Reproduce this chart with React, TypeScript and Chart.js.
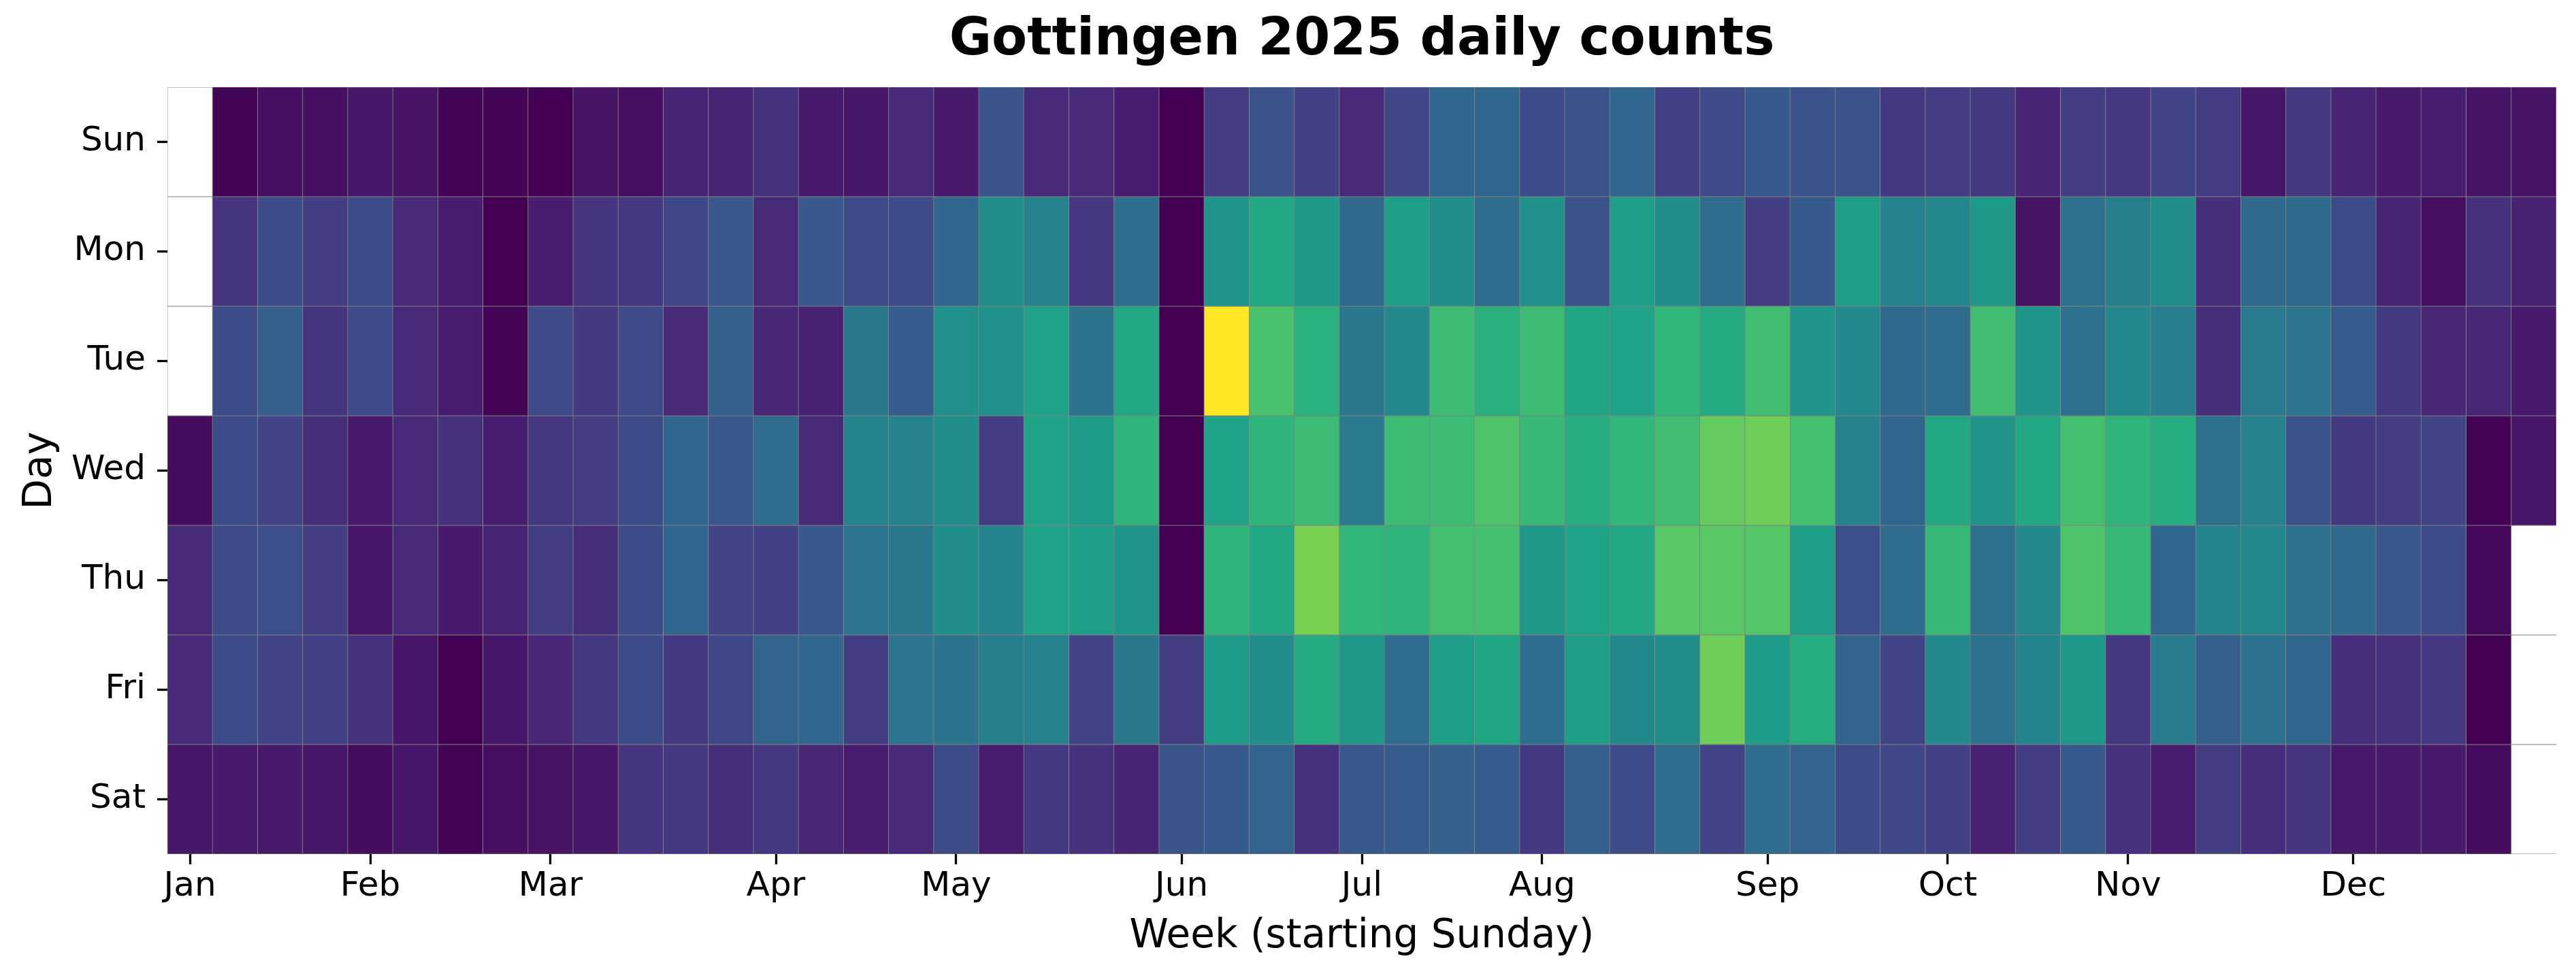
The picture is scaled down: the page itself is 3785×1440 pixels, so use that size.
import React, { useEffect, useRef } from 'react';
import { Chart, registerables } from 'chart.js';

Chart.register(...registerables);

// ---- Data ----
const DAYS = ['Sun', 'Mon', 'Tue', 'Wed', 'Thu', 'Fri', 'Sat'];

const WEEKS = [
  '2024-12-29', '2025-01-05', '2025-01-12', '2025-01-19', '2025-01-26',
  '2025-02-02', '2025-02-09', '2025-02-16', '2025-02-23', '2025-03-02',
  '2025-03-09', '2025-03-16', '2025-03-23', '2025-03-30', '2025-04-06',
  '2025-04-13', '2025-04-20', '2025-04-27', '2025-05-04', '2025-05-11',
  '2025-05-18', '2025-05-25', '2025-06-01', '2025-06-08', '2025-06-15',
  '2025-06-22', '2025-06-29', '2025-07-06', '2025-07-13', '2025-07-20',
  '2025-07-27', '2025-08-03', '2025-08-10', '2025-08-17', '2025-08-24',
  '2025-08-31', '2025-09-07', '2025-09-14', '2025-09-21', '2025-09-28',
  '2025-10-05', '2025-10-12', '2025-10-19', '2025-10-26', '2025-11-02',
  '2025-11-09', '2025-11-16', '2025-11-23', '2025-11-30', '2025-12-07',
  '2025-12-14', '2025-12-21', '2025-12-28',
];

const MONTH_TICK_WEEKS = [0, 4, 8, 13, 17, 22, 26, 30, 35, 39, 43, 48];
const MONTH_NAMES = ['Jan', 'Feb', 'Mar', 'Apr', 'May', 'Jun', 'Jul', 'Aug', 'Sep', 'Oct', 'Nov', 'Dec'];

const SUN = [null, 1, 4, 4, 6, 5, 1, 1, 0, 5, 4, 10, 10, 14, 7, 6, 12, 7, 26, 12, 12, 8, 0, 18, 25, 19, 12, 21, 33, 33, 23, 26, 33, 19, 22, 28, 25, 25, 16, 18, 16, 10, 18, 16, 20, 18, 6, 17, 10, 7, 8, 5, 5];
const MON = [null, 15, 23, 18, 23, 12, 8, 0, 8, 15, 16, 21, 27, 12, 27, 22, 23, 33, 49, 44, 16, 36, 0, 52, 60, 54, 34, 56, 49, 35, 50, 25, 56, 49, 35, 18, 28, 56, 44, 46, 54, 5, 37, 43, 48, 13, 34, 34, 23, 10, 4, 14, 9];
const TUE = [null, 23, 30, 15, 22, 12, 8, 1, 22, 17, 22, 12, 30, 11, 9, 40, 29, 50, 50, 58, 38, 60, 0, 100, 71, 64, 40, 47, 68, 63, 68, 59, 58, 66, 61, 69, 52, 47, 34, 35, 69, 52, 37, 47, 42, 13, 41, 39, 29, 17, 11, 11, 7];
const WED = [3, 23, 20, 13, 7, 12, 14, 8, 16, 18, 23, 33, 27, 35, 12, 45, 44, 49, 18, 58, 55, 65, 0, 58, 65, 68, 41, 68, 68, 72, 67, 62, 66, 69, 76, 78, 70, 44, 33, 60, 51, 60, 70, 65, 62, 37, 44, 25, 17, 18, 20, 1, 6];
const THU = [12, 22, 24, 18, 6, 12, 7, 10, 18, 13, 23, 33, 20, 19, 27, 39, 40, 49, 45, 58, 56, 52, 0, 65, 60, 80, 66, 65, 70, 70, 53, 58, 60, 74, 74, 73, 56, 24, 35, 67, 37, 47, 72, 67, 33, 45, 46, 37, 34, 27, 23, 2, null];
const FRI = [12, 23, 20, 19, 14, 6, 0, 6, 11, 16, 23, 17, 21, 32, 33, 18, 39, 38, 43, 44, 20, 40, 18, 55, 49, 61, 53, 35, 56, 59, 35, 56, 47, 49, 78, 55, 62, 32, 20, 47, 37, 45, 53, 16, 41, 30, 37, 33, 13, 14, 16, 0, null];
const SAT = [6, 7, 7, 6, 3, 6, 1, 4, 5, 6, 15, 16, 13, 16, 11, 8, 12, 23, 8, 16, 14, 10, 26, 28, 32, 14, 27, 29, 31, 29, 17, 30, 23, 35, 20, 35, 32, 23, 21, 19, 9, 18, 28, 14, 8, 18, 13, 15, 7, 7, 7, 3, null];

const DAY_VALUES = [SUN, MON, TUE, WED, THU, FRI, SAT];
const VMIN = 0;
const VMAX = 100;

// ---- Colormap (viridis) ----
const VIRIDIS = [
  '#440154', '#471365', '#482475', '#463480', '#414487', '#3b528b', '#355f8d',
  '#2f6c8e', '#2a788e', '#25848e', '#21918c', '#1e9c89', '#22a884', '#2fb47c',
  '#44bf70', '#5ec962', '#7ad151', '#9bd93c', '#bddf26', '#dfe318', '#fde725',
];

function hexToRgb(h: string): number[] {
  return [parseInt(h.slice(1, 3), 16), parseInt(h.slice(3, 5), 16), parseInt(h.slice(5, 7), 16)];
}

function viridis(v: number | null): string {
  if (v === null || v === undefined) return '#ffffff';
  let t = (v - VMIN) / (VMAX - VMIN);
  t = Math.max(0, Math.min(1, t));
  const x = t * (VIRIDIS.length - 1);
  const i = Math.min(Math.floor(x), VIRIDIS.length - 2);
  const f = x - i;
  const a = hexToRgb(VIRIDIS[i]);
  const b = hexToRgb(VIRIDIS[i + 1]);
  const c = a.map((av, k) => Math.round(av + (b[k] - av) * f));
  return `rgb(${c[0]},${c[1]},${c[2]})`;
}

const FONT = "'DejaVu Sans', 'Liberation Sans', sans-serif";

export default function App() {
  const canvasRef = useRef<HTMLCanvasElement | null>(null);

  useEffect(() => {
    document.body.style.margin = '0';
    const canvas = canvasRef.current;
    if (!canvas) return;

    const lastWeek = WEEKS.length - 1;
    const datasets = DAYS.map((day, d) => ({
      label: day,
      data: WEEKS.map(() => [d, d + 1]),
      backgroundColor: DAY_VALUES[d].map((v) => viridis(v)),
      borderColor: '#808080',
      borderWidth: 0.75,
      borderSkipped: (ctx: any) =>
        DAY_VALUES[d][ctx.dataIndex] === null && ctx.dataIndex === lastWeek ? 'right' : false,
      barPercentage: 1,
      categoryPercentage: 1,
      grouped: false,
    }));

    const chart = new Chart(canvas, {
      type: 'bar',
      data: { labels: WEEKS, datasets: datasets as any },
      options: {
        responsive: false,
        animation: false,
        devicePixelRatio: 1,
        layout: { padding: { left: 0, right: 29, top: 0, bottom: 0 } },
        plugins: {
          legend: { display: false },
          tooltip: { enabled: false },
          title: {
            display: true,
            text: 'Gottingen 2025 daily counts',
            fullSize: false,
            color: '#000',
            font: { family: FONT, size: 76, weight: 'bold', lineHeight: 1.2 },
            padding: { top: 15, bottom: 21.8 },
          },
        },
        scales: {
          x: {
            type: 'category',
            offset: true,
            border: { display: false },
            grid: {
              display: true,
              drawOnChartArea: false,
              drawTicks: true,
              offset: false,
              tickLength: 15,
              tickWidth: 3.3,
              tickColor: (ctx: any) => (MONTH_TICK_WEEKS.includes(ctx.index) ? '#000' : 'rgba(0,0,0,0)'),
            },
            ticks: {
              autoSkip: false,
              maxRotation: 0,
              minRotation: 0,
              padding: 3,
              color: '#000',
              font: { family: FONT, size: 50 },
              callback: (_v: any, i: number) => {
                const k = MONTH_TICK_WEEKS.indexOf(i);
                return k >= 0 ? MONTH_NAMES[k] : '';
              },
            },
            title: {
              display: true,
              text: 'Week (starting Sunday)',
              color: '#000',
              font: { family: FONT, size: 58, lineHeight: 1.2 },
              padding: { top: 0, bottom: 28 },
            },
            afterFit: (s: any) => {
              s.height = 185;
            },
          },
          y: {
            type: 'linear',
            min: 0,
            max: 7,
            reverse: true,
            border: { display: false },
            grid: {
              display: true,
              drawOnChartArea: false,
              drawTicks: true,
              tickLength: 15,
              tickWidth: 3.3,
              tickColor: '#000',
            },
            afterBuildTicks: (s: any) => {
              s.ticks = DAYS.map((_, i) => ({ value: i + 0.5 }));
            },
            ticks: {
              autoSkip: false,
              padding: 17,
              color: '#000',
              font: { family: FONT, size: 50 },
              callback: (v: any) => DAYS[Math.floor(Number(v))],
            },
            title: {
              display: true,
              text: 'Day',
              color: '#000',
              font: { family: FONT, size: 58, lineHeight: 1.2 },
              padding: { top: 25, bottom: 0 },
            },
            afterFit: (s: any) => {
              s.width = 246;
            },
          },
        },
      } as any,
    });

    return () => {
      chart.destroy();
    };
  }, []);

  return (
    <div style={{ position: 'absolute', left: 0, top: 0, width: 3785, height: 1440, background: '#fff' }}>
      <canvas ref={canvasRef} width={3785} height={1440} style={{ width: 3785, height: 1440, display: 'block' }} />
    </div>
  );
}
